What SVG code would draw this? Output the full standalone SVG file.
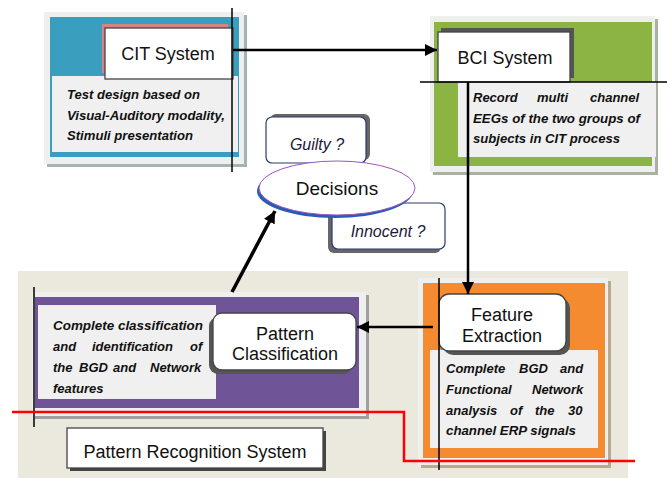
<svg xmlns="http://www.w3.org/2000/svg" width="667" height="478" viewBox="0 0 667 478">
<defs>
<style>
.t{font-family:"Liberation Sans",Arial,sans-serif;fill:#111}
.title{font-size:18px;text-anchor:middle}
.q{font-size:16px;font-style:italic;text-anchor:middle;fill:#1a1a3a}
.b{font-size:13px;font-weight:bold;font-style:italic;fill:#111}
.frame{fill:#eef0f0}
.panel{fill:#f0f0f0}
.wbox{fill:#fff;stroke:#444;stroke-width:1.3}
.qbox{fill:#fff;stroke:#2b3a6e;stroke-width:1.2}
.deco{stroke:#000;stroke-width:1.5;fill:none}
.conn{stroke:#000;fill:none}
</style>
<marker id="ah" markerUnits="userSpaceOnUse" markerWidth="13" markerHeight="12" refX="12" refY="6" orient="auto">
<path d="M0,0 L12,6 L0,12 z" fill="#000"/>
</marker>
</defs>
<rect width="667" height="478" fill="#fff"/>

<g id="pattern-recognition-area">
<rect x="18" y="271" width="610" height="207" fill="#ebe8de"/>
</g>

<g id="cit-system">
<rect x="47" y="15" width="200" height="152" fill="#a7b2b4"/>
<rect x="44" y="12" width="200" height="152" class="frame"/>
<rect x="50" y="17" width="189" height="140" fill="#3a9fbe"/>
<rect x="52" y="76" width="186" height="76" class="panel"/>
<rect x="102" y="24" width="126" height="49" fill="#d98282"/>
<rect x="105" y="28" width="128" height="51" class="wbox"/>
<text x="168" y="59.5" class="t title">CIT System</text>
<text class="t b"><tspan x="67" y="99" textLength="133" lengthAdjust="spacingAndGlyphs">Test design based on</tspan><tspan x="67" y="119.5" textLength="158" lengthAdjust="spacingAndGlyphs">Visual-Auditory modality,</tspan><tspan x="67" y="140" textLength="126" lengthAdjust="spacingAndGlyphs">Stimuli presentation</tspan></text>
</g>

<g id="bci-system">
<rect x="433" y="19" width="225" height="156" fill="#a9b29f"/>
<rect x="430" y="16" width="225" height="156" class="frame"/>
<rect x="434" y="22" width="218" height="144" fill="#8cb443"/>
<rect x="458" y="82" width="198" height="75" class="panel"/>
<rect x="441" y="28" width="133" height="50" fill="#555"/>
<rect x="438" y="32" width="132" height="50" class="wbox"/>
<text x="505" y="63.5" class="t title">BCI System</text>
<text class="t b"><tspan x="473" y="102">Record</tspan><tspan x="537" y="102">multi</tspan><tspan x="590" y="102">channel</tspan><tspan x="473" y="122.5" textLength="167" lengthAdjust="spacingAndGlyphs">EEGs of the two groups of</tspan><tspan x="473" y="143" textLength="147" lengthAdjust="spacingAndGlyphs">subjects in CIT process</tspan></text>
</g>

<g id="guilty">
<rect x="270" y="114" width="100" height="46" rx="6" fill="#666"/>
<rect x="266" y="117" width="100" height="46" rx="6" class="qbox"/>
<text x="317" y="150" class="t q">Guilty ?</text>
</g>

<g id="innocent">
<rect x="328" y="207" width="113" height="46" rx="6" fill="#666"/>
<rect x="332" y="203" width="113" height="46" rx="6" class="qbox"/>
<text x="388" y="237" class="t q">Innocent ?</text>
</g>

<g id="decisions">
<ellipse cx="335" cy="191" rx="78" ry="27" fill="#2a5bb5"/>
<ellipse cx="337" cy="188" rx="78" ry="27" fill="#fff" stroke="#9a55c0" stroke-width="1"/>
<text x="337" y="195" class="t" style="font-size:19px;text-anchor:middle">Decisions</text>
</g>

<g id="pattern-classification-panel">
<rect x="35" y="295" width="334" height="124" fill="#a0a0a0"/>
<rect x="32" y="292" width="334" height="124" class="frame"/>
<rect x="35" y="297" width="324" height="111" fill="#6f5597"/>
<rect x="38" y="305" width="178" height="94" class="panel"/>
<text class="t b"><tspan x="53" y="330" textLength="150" lengthAdjust="spacingAndGlyphs">Complete classification</tspan><tspan x="53" y="351">and</tspan><tspan x="92" y="351">identification</tspan><tspan x="190" y="351">of</tspan><tspan x="53" y="372">the</tspan><tspan x="79" y="372">BGD</tspan><tspan x="113" y="372">and</tspan><tspan x="150" y="372">Network</tspan><tspan x="53" y="393">features</tspan></text>
</g>

<g id="pattern-classification">
<rect x="209" y="317" width="143" height="57" rx="9" fill="#555"/>
<rect x="213" y="313" width="143" height="57" rx="9" class="wbox"/>
<text x="285" y="339.5" class="t title">Pattern</text>
<text x="285" y="359.5" class="t title">Classification</text>
</g>

<g id="feature-extraction-panel">
<rect x="421" y="281" width="190" height="187" fill="#b9a98e"/>
<rect x="418" y="278" width="190" height="187" class="frame"/>
<rect x="423" y="283" width="182" height="175" fill="#f58b30"/>
<rect x="430" y="350" width="168" height="98" class="panel"/>
<text class="t b"><tspan x="446" y="373">Complete</tspan><tspan x="519" y="373">BGD</tspan><tspan x="560" y="373">and</tspan><tspan x="446" y="394">Functional</tspan><tspan x="532" y="394">Network</tspan><tspan x="446" y="415">analysis</tspan><tspan x="510" y="415">of</tspan><tspan x="535" y="415">the</tspan><tspan x="568" y="415">30</tspan><tspan x="446" y="435" textLength="130" lengthAdjust="spacingAndGlyphs">channel ERP signals</tspan></text>
</g>

<g id="feature-extraction">
<rect x="443" y="298" width="127" height="57" rx="10" fill="#555"/>
<rect x="439" y="294" width="127" height="57" rx="10" class="wbox"/>
<text x="502" y="321" class="t title">Feature</text>
<text x="502" y="342" class="t title">Extraction</text>
</g>

<g id="pattern-recognition-system">
<rect x="70" y="431" width="256" height="40" fill="#444"/>
<rect x="67" y="428" width="256" height="40" class="wbox"/>
<text x="195" y="458" class="t title">Pattern Recognition System</text>
</g>

<g id="decorations">
<line x1="232" y1="8" x2="232" y2="172" class="deco"/>
<line x1="420" y1="82" x2="667" y2="82" class="deco"/>
<line x1="34" y1="287" x2="34" y2="427" class="deco"/>
<line x1="439" y1="278" x2="439" y2="470" class="deco"/>
<polyline points="12,412 404,412 404,461 635,461" fill="none" stroke="#ff0000" stroke-width="2.5"/>
</g>

<g id="connectors">
<line x1="233" y1="50" x2="437" y2="50" class="conn" stroke-width="2.5" marker-end="url(#ah)"/>
<line x1="468" y1="82" x2="468" y2="294" class="conn" stroke-width="2.5" marker-end="url(#ah)"/>
<line x1="433" y1="327" x2="357" y2="327" class="conn" stroke-width="2.5" marker-end="url(#ah)"/>
<line x1="232" y1="292" x2="275" y2="211" class="conn" stroke-width="3.5" marker-end="url(#ah)"/>
</g>
</svg>
